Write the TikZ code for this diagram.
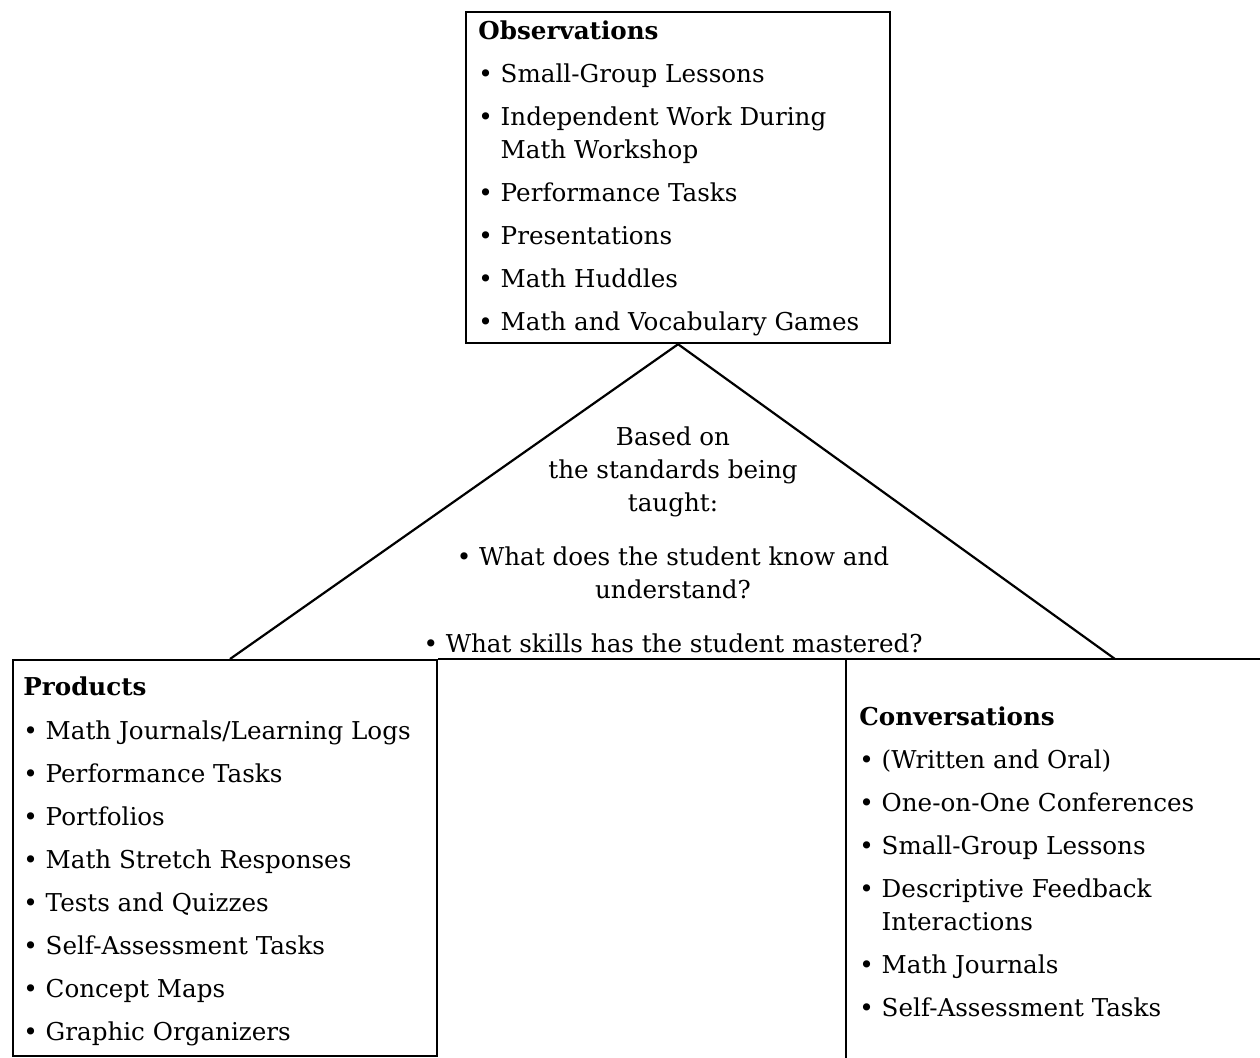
\documentclass[tikz,border=0pt]{standalone}
\usepackage{fontspec}
\setmainfont{DejaVu Serif}
\usetikzlibrary{positioning}
\newcommand{\bul}{\textbullet\ }
\newcommand{\cont}{\phantom{\textbullet\ }}

\begin{document}
\begin{tikzpicture}[x=0.5pt, y=-0.5pt,
    frame/.style={draw, line width=1.1pt, inner sep=0pt, anchor=north west},
    list/.style={inner sep=0pt, anchor=north west, align=left, font=\fontsize{12.3}{21.5}\selectfont},
    edge/.style={line width=1.1pt},
  ]
  \useasboundingbox (0,0) rectangle (1260,1057);

  % Boxes
  \node[frame, minimum width=212pt, minimum height=165.5pt] (obs)  at (465,11)  {};
  \node[frame, minimum width=212pt, minimum height=198pt]   (prod) at (12,659)  {};
  \node[inner sep=0pt, anchor=north west, minimum width=207pt, minimum height=199pt] (conv) at (846,659) {};
  \coordinate (rim)   at (1260,659);
  \coordinate (footL) at (230,659);
  \coordinate (footR) at (1115,659);

  % Lines
  \draw[edge] (prod.north east) -- (rim);
  \draw[edge] (conv.north west) -- (conv.south west);
  \draw[edge] (footL) -- (obs.south) -- (footR);

  % Lists
  \node[list, below right=4.5pt and 6.5pt of obs.north west] (obslist) {%
    \textbf{Observations}\\
    \bul Small-Group Lessons\\
    \bul Independent Work During\\[-5pt]
    \cont Math Workshop\\
    \bul Performance Tasks\\
    \bul Presentations\\
    \bul Math Huddles\\
    \bul Math and Vocabulary Games};

  \node[list, below right=8.5pt and 5.5pt of prod.north west] (prodlist) {%
    \textbf{Products}\\[0.5pt]
    \bul Math Journals/Learning Logs\\
    \bul Performance Tasks\\
    \bul Portfolios\\
    \bul Math Stretch Responses\\
    \bul Tests and Quizzes\\
    \bul Self-Assessment Tasks\\
    \bul Concept Maps\\
    \bul Graphic Organizers};

  \node[list, below right=23.5pt and 6.5pt of conv.north west] (convlist) {%
    \textbf{Conversations}\\
    \bul (Written and Oral)\\
    \bul One-on-One Conferences\\
    \bul Small-Group Lessons\\
    \bul Descriptive Feedback\\[-5pt]
    \cont Interactions\\
    \bul Math Journals\\
    \bul Self-Assessment Tasks};

  % Centre text
  \node[inner sep=0pt, anchor=north, align=center, font=\fontsize{12.3}{16.5}\selectfont] (focus) at (673,426) {%
    Based on\\
    the standards being\\
    taught:\\[10.5pt]
    \bul What does the student know and\\
    understand?\\[10.5pt]
    \bul What skills has the student mastered?};
\end{tikzpicture}
\end{document}
